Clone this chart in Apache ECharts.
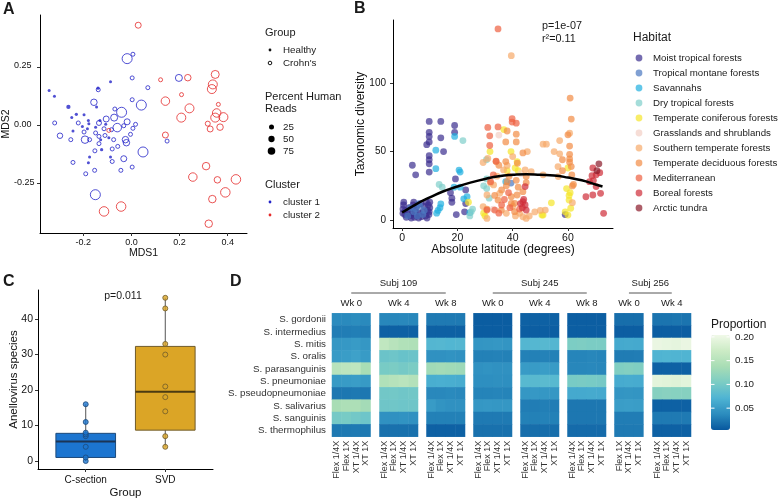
<!DOCTYPE html>
<html>
<head>
<meta charset="utf-8">
<script src="https://cdn.jsdelivr.net/npm/echarts@6/dist/echarts.min.js"></script>
<style>
  html, body { margin: 0; padding: 0; background: #fff; }
  #main { width: 778px; height: 499px; }
</style>
</head>
<body>
<div id="main"></div>
<script>
  var font = "'Liberation Sans', Arial, sans-serif"

  // ---- A: MDS ordination, [MDS1, MDS2, percent human reads]
  var c1Healthy = [[-0.342, 0.149, 20], [-0.32, 0.124, 20], [-0.262, 0.078, 45], [-0.229, 0.046, 25], [-0.248, 0.032, 20],
    [-0.197, 0.044, 20], [-0.087, 0.187, 20], [-0.139, 0.159, 25], [-0.145, 0.078, 20], [-0.243, -0.026, 20],
    [-0.204, -0.006, 20], [-0.177, 0.006, 20], [-0.183, -0.016, 20], [-0.179, 0.02, 20], [-0.149, -0.009, 20],
    [-0.131, 0.02, 20], [-0.107, 0.003, 20], [-0.174, -0.138, 20], [-0.179, -0.162, 20], [-0.124, -0.106, 25],
    [-0.087, -0.138, 20], [-0.094, -0.055, 20], [-0.128, -0.063, 20]]
  var c1Crohn = [[-0.018, 0.286, 70], [0.006, 0.305, 10], [0.003, 0.203, 10], [0.068, 0.161, 10], [0.197, 0.203, 40],
    [-0.138, 0.152, 10], [-0.156, 0.098, 35], [0.003, 0.109, 10], [0.041, 0.086, 70], [-0.041, 0.055, 70],
    [-0.069, 0.069, 10], [-0.072, 0.032, 40], [-0.059, -0.011, 55], [-0.018, 0.014, 30], [-0.032, -0.003, 10],
    [0.017, 0.003, 10], [-0.105, 0.026, 30], [-0.135, 0.009, 20], [-0.319, 0.009, 10], [-0.297, -0.046, 25],
    [-0.221, 0.009, 10], [-0.197, -0.03, 10], [-0.193, -0.063, 45], [-0.174, -0.063, 10], [-0.149, -0.034, 10],
    [-0.135, -0.049, 10], [-0.114, -0.016, 10], [-0.11, -0.045, 10], [-0.135, -0.08, 10], [-0.083, -0.02, 10],
    [-0.074, -0.063, 10], [-0.057, -0.092, 10], [-0.025, -0.063, 35], [-0.021, -0.076, 35], [-0.004, -0.04, 10],
    [0.006, -0.014, 10], [-0.08, -0.103, 10], [-0.032, -0.145, 30], [0.048, -0.116, 70], [-0.252, -0.063, 10],
    [-0.243, -0.161, 10], [-0.152, -0.111, 10], [-0.08, -0.157, 10], [-0.044, -0.195, 10], [0.003, -0.181, 10],
    [-0.19, -0.21, 10], [-0.153, -0.195, 10], [-0.15, -0.3, 70], [0.148, -0.069, 10]]
  var c2Crohn = [[0.028, 0.43, 30], [0.121, 0.195, 10], [0.234, 0.204, 35], [0.348, 0.218, 50], [0.338, 0.175, 60],
    [0.334, 0.155, 60], [0.208, 0.131, 10], [0.361, 0.089, 10], [0.141, 0.103, 55], [0.241, 0.072, 60],
    [0.207, 0.032, 60], [0.354, 0.052, 55], [0.348, 0.032, 60], [0.382, 0.034, 60], [0.317, 0.006, 20],
    [0.327, -0.017, 30], [0.368, -0.009, 35], [-0.094, -0.023, 10], [0.141, -0.043, 30], [0.31, -0.177, 45],
    [0.255, -0.224, 55], [0.357, -0.236, 35], [0.434, -0.234, 65], [0.39, -0.29, 65], [0.336, -0.319, 45],
    [0.321, -0.425, 45], [-0.114, -0.372, 65], [-0.043, -0.351, 65]]
  var mdsXTicks = [-0.2, 0, 0.2, 0.4]
  var mdsYTicks = [-0.25, 0, 0.25]
  var mdsYLabels = ['-0.25', '0.00', '0.25']
  var readsLegend = [25, 50, 75]

  // ---- B: latitude vs diversity, [abs latitude, diversity]
  var moistTropical = [[0.3, 5], [0.3, 8], [0.5, 11], [0.6, 13], [1, 4], [1.2, 7], [1.5, 2], [2, 6], [2.5, 9], [3, 3],
    [3.3, 1.5], [3.5, 5], [3.8, 8], [4, 11], [4.2, 13], [4.5, 2], [4.8, 6], [5, 9], [5.3, 3], [5.7, 11], [6, 1.5],
    [6.3, 5], [6.8, 12], [7, 2.5], [7.5, 6], [8, 10], [8.5, 3], [8.8, 13], [9, 1.5], [9.2, 7], [9.5, 11], [9.7, 4],
    [10, 9], [10, 13], [9.8, 6], [9.8, 72], [9.8, 64], [9.8, 61], [9.8, 57], [8.9, 55], [9.8, 47], [9.8, 44],
    [9.8, 41], [9.8, 35], [3.7, 40], [4.9, 33], [14, 72], [14, 60], [15, 50], [19, 69], [19, 64], [19.3, 30],
    [17.5, 20], [18, 16], [18, 13], [19.6, 4], [23, 22], [23, 12], [22.6, 6], [59, 4]]
  var montaneTropical = [[4.2, 6], [5, 8], [5.5, 3], [6.5, 10], [7.5, 4], [8, 7], [3, 9], [6, 12], [2, 3], [39.4, 27]]
  var savannahs = [[19, 61], [12.2, 51], [12.2, 37.5], [20.6, 36.5], [21, 35], [14, 11.8], [13.7, 9], [13, 7],
    [12.5, 5], [22.3, 15.5], [24.5, 5.4], [18.8, 24], [23.5, 17], [21, 24], [37.5, 28]]
  var dryTropical = [[22, 58], [13.4, 26], [30.5, 44], [30.6, 30], [30.6, 23], [31.5, 16], [25, 6], [24.5, 3],
    [29.5, 25], [25.5, 8], [14.5, 24]]
  var coniferous = [[31.8, 50], [36.8, 66], [24, 13], [39.4, 50], [41.6, 42.6], [40.9, 38], [54, 12.6], [51, 3.6],
    [60, 38], [60.4, 18], [60.4, 14.6], [61, 8.6], [60, 3.6], [50.6, 3.7], [30, 3], [29.5, 5], [42, 36], [38, 36],
    [60.8, 20], [59.5, 23], [59, 6]]
  var grasslands = [[35, 62], [43, 34], [33, 8]]
  var southernTemperate = [[29.3, 42], [38, 39.8], [36.7, 36.6], [51, 55.4], [52.2, 55.4], [57, 58], [57, 48.3],
    [56.4, 39], [56.5, 31.7], [51, 33], [48, 5.9], [51.8, 7.3], [44.5, 36.6], [46.7, 35.4], [30.7, 18.3], [37.7, 4.9],
    [42.5, 4.9], [43.7, 2.4], [44.9, 1.2], [30.7, 1.2], [29.3, 9.8], [39.5, 120], [34.3, 32], [60.6, 63.4], [40, 46.3],
    [45.3, 50], [41, 3], [46, 3], [40, 10], [35.3, 19.5], [33.1, 25.6], [32, 27], [31, 45], [61.6, 12.7], [55, 50], [50, 7]]
  var deciduous = [[60.8, 89], [61.2, 73.7], [60, 62.2], [60.6, 54], [60.6, 48], [60.6, 44.6], [60.6, 42.2], [61.2, 39],
    [61.4, 33], [61.6, 24.9], [37.5, 57], [41.3, 62.7], [41.3, 57], [38, 65], [43.7, 49], [41.7, 41.5], [38.7, 32],
    [38, 28], [41.3, 29], [44.9, 31.7], [44.9, 27.3], [43.7, 20.7], [39.5, 17], [41.6, 18.3], [39.5, 12.2], [40.7, 12.2],
    [40.7, 6.1], [35.9, 7.3], [34.7, 14.6], [37.7, 25], [34, 42.7], [37.5, 42.7], [35, 40], [58, 44], [42, 24], [36, 22],
    [33.5, 18], [30.7, 8], [62, 26], [58, 36]]
  var mediterranean = [[34.7, 139.5], [31, 67.6], [34.7, 68], [39.8, 74], [39.8, 71.5], [41.3, 70.7], [31.7, 61.5],
    [31.7, 54.4], [33.5, 7.3], [30.7, 7.3], [39, 9], [36, 11], [38.5, 20], [32, 28], [34, 43], [33, 33], [42.5, 8],
    [37, 15], [35, 5]]
  var boreal = [[44.5, 24.4], [43.7, 13.4], [44.5, 11], [44.9, 7.3], [43.5, 9], [42.8, 12], [44, 15], [69.2, 28.8],
    [70.2, 33], [71.5, 34.6], [69, 18.3], [71.8, 19.5], [72.9, 4.9], [67.8, 28], [70.2, 24.4], [68.7, 32.4], [66.5, 17], [69, 38]]
  var arcticTundra = [[71.2, 41], [70.5, 36]]
  var habitatNames = ['Moist tropical forests', 'Tropical montane forests', 'Savannahs', 'Dry tropical forests',
    'Temperate coniferous forests', 'Grasslands and shrublands', 'Southern temperate forests',
    'Temperate deciduous forests', 'Mediterranean', 'Boreal forests', 'Arctic tundra']
  var habitatPoints = [moistTropical, montaneTropical, savannahs, dryTropical, coniferous, grasslands,
    southernTemperate, deciduous, mediterranean, boreal, arcticTundra]
  var fitLat = [0, 5, 10, 15, 20, 25, 30, 35, 40, 45, 50, 55, 60, 65, 70, 72.5]
  var fitDiv = [5.5, 11.5, 16.5, 21, 24.5, 27.5, 30, 32, 33, 33.5, 33, 32.5, 31, 29, 26, 24.5]
  var latTicks = [0, 20, 40, 60]
  var divTicks = [0, 50, 100]

  // ---- C: anellovirus species by delivery
  var deliveryGroups = ['C-section', 'SVD']
  var csectionCounts = [0, 1, 4, 7, 7.5, 8, 11, 16]
  var svdCounts = [4, 7, 14, 18, 21, 30, 33, 43, 46]
  // [group position, min, q1, median, q3, max]
  var boxStats = [[1, 0, 1, 5.5, 7.8, 16], [2, 4, 8.7, 19.5, 32.3, 46]]
  var countTicks = [0, 10, 20, 30, 40]

  // ---- D: streptococcus proportions
  var species = ['S. gordonii', 'S. intermedius', 'S. mitis', 'S. oralis', 'S. parasanguinis', 'S. pneumoniae',
    'S. pseudopneumoniae', 'S. salivarius', 'S. sanguinis', 'S. thermophilus']
  var kitCols = ['Flex 1/4X', 'Flex 1X', 'XT 1/4X', 'XT 1X']
  var kitCols3 = ['Flex 1X', 'XT 1/4X', 'XT 1X']
  var weeks = ['Wk 0', 'Wk 4', 'Wk 8', 'Wk 0', 'Wk 4', 'Wk 8', 'Wk 0', 'Wk 4']
  var subjects = ['Subj 109', 'Subj 245', 'Subj 256']
  var heat109w0 = [[0.037, 0.036, 0.038, 0.036], [0.028, 0.028, 0.029, 0.028], [0.047, 0.048, 0.05, 0.047],
    [0.05, 0.052, 0.055, 0.05], [0.152, 0.156, 0.158, 0.137], [0.049, 0.05, 0.052, 0.049], [0.024, 0.024, 0.025, 0.024],
    [0.138, 0.142, 0.142, 0.134], [0.1, 0.102, 0.098, 0.094], [0.025, 0.025, 0.026, 0.025]]
  var heat109w4 = [[0.034, 0.034, 0.035, 0.034], [0.01, 0.01, 0.01, 0.01], [0.16, 0.152, 0.146, 0.144],
    [0.092, 0.094, 0.09, 0.092], [0.102, 0.104, 0.1, 0.104], [0.146, 0.15, 0.154, 0.148], [0.097, 0.098, 0.096, 0.097],
    [0.095, 0.096, 0.094, 0.095], [0.042, 0.042, 0.043, 0.042], [0.02, 0.02, 0.02, 0.02]]
  var heat109w8 = [[0.026, 0.026, 0.026, 0.026], [0.01, 0.01, 0.01, 0.01], [0.075, 0.076, 0.074, 0.075],
    [0.042, 0.042, 0.043, 0.042], [0.132, 0.134, 0.132, 0.13], [0.066, 0.067, 0.066, 0.065], [0.035, 0.035, 0.036, 0.035],
    [0.05, 0.044, 0.042, 0.042], [0.03, 0.03, 0.03, 0.03], [0.01, 0.01, 0.01, 0.01]]
  var heat245w0 = [[0.007, 0.007, 0.007, 0.007], [0.007, 0.007, 0.007, 0.007], [0.045, 0.046, 0.047, 0.045],
    [0.03, 0.03, 0.031, 0.03], [0.042, 0.043, 0.042, 0.042], [0.04, 0.04, 0.041, 0.04], [0.032, 0.032, 0.033, 0.032],
    [0.047, 0.048, 0.047, 0.047], [0.026, 0.026, 0.026, 0.026], [0.02, 0.02, 0.02, 0.02]]
  var heat245w4 = [[0.01, 0.01, 0.01, 0.01], [0.008, 0.008, 0.008, 0.008], [0.075, 0.076, 0.077, 0.075],
    [0.03, 0.03, 0.031, 0.03], [0.05, 0.05, 0.052, 0.05], [0.078, 0.079, 0.08, 0.078], [0.047, 0.048, 0.047, 0.047],
    [0.028, 0.028, 0.029, 0.028], [0.03, 0.03, 0.031, 0.03], [0.018, 0.018, 0.018, 0.018]]
  var heat245w8 = [[0.008, 0.008, 0.008, 0.008], [0.008, 0.008, 0.008, 0.008], [0.105, 0.106, 0.104, 0.104],
    [0.033, 0.033, 0.034, 0.033], [0.034, 0.034, 0.035, 0.034], [0.102, 0.103, 0.102, 0.1], [0.062, 0.062, 0.063, 0.062],
    [0.024, 0.024, 0.024, 0.024], [0.024, 0.024, 0.024, 0.024], [0.016, 0.016, 0.016, 0.016]]
  var heat256w0 = [[0.018, 0.018, 0.018], [0.008, 0.008, 0.008], [0.062, 0.063, 0.062], [0.027, 0.027, 0.028],
    [0.108, 0.11, 0.108], [0.064, 0.065, 0.064], [0.045, 0.046, 0.045], [0.052, 0.053, 0.052], [0.028, 0.028, 0.028],
    [0.026, 0.026, 0.026]]
  var heat256w4 = [[0.022, 0.022, 0.023, 0.022], [0.008, 0.008, 0.008, 0.008], [0.198, 0.196, 0.194, 0.198],
    [0.072, 0.073, 0.072, 0.072], [0.01, 0.01, 0.01, 0.01], [0.192, 0.19, 0.188, 0.192], [0.112, 0.114, 0.113, 0.112],
    [0.01, 0.01, 0.01, 0.01], [0.026, 0.026, 0.026, 0.026], [0.01, 0.01, 0.01, 0.01]]
  var facetValues = [heat109w0, heat109w4, heat109w8, heat245w0, heat245w4, heat245w8, heat256w0, heat256w4]
  var proportionTicks = [0.05, 0.1, 0.15, 0.2]

  // ---- styling / layout
  var blue = '#2424C8'
  var red = '#E52A2A'
  var habitatColors = ['#3A2D8F', '#4A78C0', '#1FAFE0', '#7FCFCB', '#F5E62A', '#F2CFC4', '#F6A96A', '#F28B45',
    '#EE6040', '#CF2C38', '#8A1A2A']
  var boxFill = ['#1C75D0', '#DBA526']
  var boxEdge = ['#1D4A7A', '#6F5B2A']
  var boxMed = ['#1B3556', '#4A3A12']
  var facetLeft = [332, 379.5, 426.5, 473.5, 520.5, 567.5, 614.5, 652.5]
  var colW = 9.63
  var heatTop = 313.3
  var heatH = 123.4
  var gradient = ['#08589E', '#2B8CBE', '#4EB3D3', '#7BCCC4', '#A8DDB5', '#CCEBC5', '#F0F9E8']
  var pMin = 0.004
  var pMax = 0.204
  var barLeft = 711
  var barTop = 335
  var barH = 95
  var barW = 19

  function hollowSize (d) { return 3 + d[2] * 0.1 }
  function dotSize (d) { return 2 + d[2] * 0.05 }

  function valueAxis (grid, min, max, ticks, fmt, labelSize, margin, name, nameGap, nameSize) {
    return {
      type: 'value', gridIndex: grid, min: min, max: max,
      axisLine: { show: true, onZero: false, lineStyle: { color: '#000', width: 1 } },
      axisTick: { show: true, customValues: ticks, length: 3, lineStyle: { color: '#333' } },
      axisLabel: { customValues: ticks, formatter: fmt, color: '#111', fontSize: labelSize, margin: margin,
        fontFamily: font, hideOverlap: false, showMinLabel: true, showMaxLabel: true },
      splitLine: { show: false },
      name: name, nameLocation: 'middle', nameGap: nameGap, nameMoveOverlap: false,
      nameTextStyle: { fontSize: nameSize, color: '#111', fontFamily: font }
    }
  }

  var grids = [
    { left: 40, top: 15, width: 207, height: 218 },
    { left: 393, top: 20, width: 220, height: 208 },
    { left: 38, top: 290, width: 175, height: 179 }
  ]
  var xAxes = [
    valueAxis(0, -0.38, 0.48, mdsXTicks, function (v) { return v.toFixed(1) }, 9, 5, 'MDS1', 15, 10.5),
    valueAxis(1, -3.3, 76.3, latTicks, null, 10.5, 5, 'Absolute latitude (degrees)', 16, 12),
    valueAxis(2, 0.4, 2.6, [1, 2], function (v) { return deliveryGroups[Math.round(v) - 1] }, 10, 6, 'Group', 18, 11.5)
  ]
  var yAxes = [
    valueAxis(0, -0.465, 0.474, mdsYTicks, null, 9, 7, '', 28, 10.5),
    valueAxis(1, -5.8, 146, divTicks, null, 10, 7, 'Taxonomic diversity', 26, 12),
    valueAxis(2, -2.25, 48.2, countTicks, null, 10.5, 5, 'Anellovirus species', 18, 11.5)
  ]
  yAxes.forEach(function (a) { a.nameRotate = 90 })
  // MDS2 tick labels are placed below from the axis scale itself
  yAxes[0].axisLabel.show = false

  var series = []
  series.push({
    type: 'scatter', xAxisIndex: 0, yAxisIndex: 0, data: c1Crohn, symbolSize: hollowSize,
    itemStyle: { color: 'rgba(0,0,0,0)', borderColor: blue, borderWidth: 1 }
  })
  series.push({
    type: 'scatter', xAxisIndex: 0, yAxisIndex: 0, data: c1Healthy, symbolSize: dotSize,
    itemStyle: { color: blue }
  })
  series.push({
    type: 'scatter', xAxisIndex: 0, yAxisIndex: 0, data: c2Crohn, symbolSize: hollowSize,
    itemStyle: { color: 'rgba(0,0,0,0)', borderColor: red, borderWidth: 1 }
  })

  habitatPoints.forEach(function (pts, i) {
    series.push({
      type: 'scatter', name: habitatNames[i], xAxisIndex: 1, yAxisIndex: 1, data: pts, symbolSize: 6.8,
      itemStyle: { color: habitatColors[i], opacity: 0.7 }
    })
  })
  series.push({
    type: 'line', xAxisIndex: 1, yAxisIndex: 1, smooth: true, showSymbol: false,
    data: fitLat.map(function (x, i) { return [x, fitDiv[i]] }),
    lineStyle: { color: '#000', width: 2.5 }, z: 5
  })

  series.push({
    type: 'custom', xAxisIndex: 2, yAxisIndex: 2, data: boxStats,
    encode: { x: 0, y: [1, 2, 3, 4, 5] },
    renderItem: function (params, api) {
      var x = api.value(0)
      var hw = 0.375
      var i = params.dataIndex
      var top = api.coord([x, api.value(5)])
      var bot = api.coord([x, api.value(1)])
      var ul = api.coord([x - hw, api.value(4)])
      var lr = api.coord([x + hw, api.value(2)])
      var ml = api.coord([x - hw, api.value(3)])
      var mr = api.coord([x + hw, api.value(3)])
      return {
        type: 'group',
        children: [
          { type: 'line', shape: { x1: top[0], y1: top[1], x2: bot[0], y2: bot[1] }, style: { stroke: '#555', lineWidth: 1 } },
          { type: 'rect', shape: { x: ul[0], y: ul[1], width: lr[0] - ul[0], height: lr[1] - ul[1] },
            style: { fill: boxFill[i], stroke: boxEdge[i], lineWidth: 1 } },
          { type: 'line', shape: { x1: ml[0], y1: ml[1], x2: mr[0], y2: mr[1] }, style: { stroke: boxMed[i], lineWidth: 2 } }
        ]
      }
    }
  })
  ;[csectionCounts, svdCounts].forEach(function (vals, g) {
    series.push({
      type: 'scatter', xAxisIndex: 2, yAxisIndex: 2, symbolSize: 5, z: 4,
      data: vals.map(function (v) { return [g + 1, v] }),
      itemStyle: { color: boxFill[g], borderColor: boxEdge[g], borderWidth: 1 }
    })
  })

  var heatSeries = []
  facetValues.forEach(function (rows, f) {
    var cols = rows[0].length === 3 ? kitCols3 : kitCols
    grids.push({ left: facetLeft[f], top: heatTop, width: cols.length * colW, height: heatH })
    var g = grids.length - 1
    xAxes.push({
      type: 'category', gridIndex: g, data: cols,
      axisLine: { show: false }, axisTick: { show: false }, splitLine: { show: false },
      axisLabel: { rotate: 90, interval: 0, fontSize: 9, color: '#333', margin: 4, fontFamily: font }
    })
    yAxes.push({
      type: 'category', gridIndex: g, data: species, inverse: true,
      axisLine: { show: false }, axisTick: { show: false }, splitLine: { show: false },
      axisLabel: { show: f === 0, interval: 0, fontSize: 9.8, color: '#333', margin: 6, fontFamily: font }
    })
    var data = []
    rows.forEach(function (r, ri) {
      r.forEach(function (v, ci) { data.push([ci, ri, v]) })
    })
    heatSeries.push(series.length)
    series.push({
      type: 'heatmap', xAxisIndex: xAxes.length - 1, yAxisIndex: yAxes.length - 1, data: data,
      itemStyle: { borderWidth: 0 }
    })
  })
  grids.forEach(function (g) { g.outerBoundsMode = 'none' })

  // ---- annotations and legends
  var graphics = []
  function txt (x, y, s, size, opts) {
    opts = opts || {}
    graphics.push({
      type: 'text', x: x, y: y, rotation: opts.rot || 0, z: 100,
      style: {
        text: s, fill: opts.color || '#1a1a1a',
        font: (opts.weight || 'normal') + ' ' + size + 'px ' + font,
        textAlign: opts.align || 'left', textVerticalAlign: opts.valign || 'middle'
      }
    })
  }
  function dot (x, y, r, fill, stroke, opacity) {
    graphics.push({
      type: 'circle', z: 100, shape: { cx: x, cy: y, r: r },
      style: { fill: fill, stroke: stroke || null, lineWidth: 1, opacity: opacity == null ? 1 : opacity }
    })
  }

  txt(3, 10, 'A', 16, { weight: 'bold' })
  txt(354, 9, 'B', 16, { weight: 'bold' })
  txt(3, 282, 'C', 16, { weight: 'bold' })
  txt(230, 282, 'D', 16, { weight: 'bold' })

  // A y-axis title
  txt(6, 124, 'MDS2', 10.5, { align: 'center', rot: Math.PI / 2, color: '#111' })

  // A legend
  txt(265, 33, 'Group', 11)
  dot(270, 50, 1.4, '#111')
  txt(283, 50, 'Healthy', 9.8)
  dot(270, 63, 1.8, 'none', '#111')
  txt(283, 63, "Crohn's", 9.8)
  txt(265, 97, 'Percent Human', 11)
  txt(265, 109, 'Reads', 11)
  readsLegend.forEach(function (v, i) {
    dot(271.5, 127 + i * 12, 2.5 + i * 0.65, '#000')
    txt(283, 127 + i * 12, String(v), 9.8)
  })
  txt(265, 185, 'Cluster', 11)
  dot(270, 202, 1.4, blue)
  txt(283, 202, 'cluster 1', 9.8)
  dot(270, 215, 1.4, red)
  txt(283, 215, 'cluster 2', 9.8)

  // B annotations and legend
  txt(542, 26, 'p=1e-07', 10.8)
  txt(542, 39, 'r\u00b2=0.11', 10.8)
  txt(633, 38, 'Habitat', 12)
  habitatNames.forEach(function (n, i) {
    dot(639, 58 + i * 15, 3.4, habitatColors[i], null, 0.7)
    txt(653, 58 + i * 15, n, 9.7)
  })

  // C annotation
  txt(123, 296, 'p=0.011', 10.5, { align: 'center' })

  // D strips
  facetValues.forEach(function (rows, f) {
    txt(facetLeft[f] + rows[0].length * colW / 2, 303, weeks[f], 9.5, { align: 'center' })
  })
  ;[[0, 2], [3, 5], [6, 7]].forEach(function (span, s) {
    var a = facetLeft[span[0]] + facetValues[span[0]][0].length * colW / 2
    var b = facetLeft[span[1]] + facetValues[span[1]][0].length * colW / 2
    graphics.push({
      type: 'line', z: 100, shape: { x1: a, y1: 293, x2: b, y2: 293 },
      style: { stroke: '#555', lineWidth: 1 }
    })
    txt((a + b) / 2, 283, subjects[s], 9.5, { align: 'center' })
  })

  // D colour bar title, labels, ticks
  txt(barLeft, 325, 'Proportion', 12)
  proportionTicks.forEach(function (v) {
    var y = barTop + (pMax - v) / (pMax - pMin) * barH
    txt(barLeft + barW + 5, y, v.toFixed(2), 9.8)
    graphics.push({ type: 'line', z: 100, shape: { x1: barLeft, y1: y, x2: barLeft + 3.5, y2: y }, style: { stroke: '#fff', lineWidth: 1 } })
    graphics.push({ type: 'line', z: 100, shape: { x1: barLeft + barW - 3.5, y1: y, x2: barLeft + barW, y2: y }, style: { stroke: '#fff', lineWidth: 1 } })
  })

  var chart = echarts.init(document.getElementById('main'))
  chart.setOption({
    animation: false,
    backgroundColor: '#fff',
    textStyle: { fontFamily: font },
    grid: grids,
    xAxis: xAxes,
    yAxis: yAxes,
    visualMap: {
      type: 'continuous', min: pMin, max: pMax, seriesIndex: heatSeries,
      left: barLeft, top: barTop, itemWidth: barW, itemHeight: barH, padding: 0,
      calculable: false, hoverLink: false, text: null, showLabel: false,
      inRange: { color: gradient }
    },
    graphic: graphics,
    series: series
  })

  // MDS2 tick labels, positioned through the y scale of panel A
  mdsYTicks.forEach(function (v, i) {
    var py = chart.convertToPixel({ yAxisIndex: 0 }, v)
    graphics.push({
      type: 'text', id: 'mdsY' + i, x: 14, y: py - 5.5, z: 120,
      style: { text: mdsYLabels[i], fill: '#111', font: '9px ' + font }
    })
  })
  chart.setOption({ graphic: graphics })
</script>
</body>
</html>
